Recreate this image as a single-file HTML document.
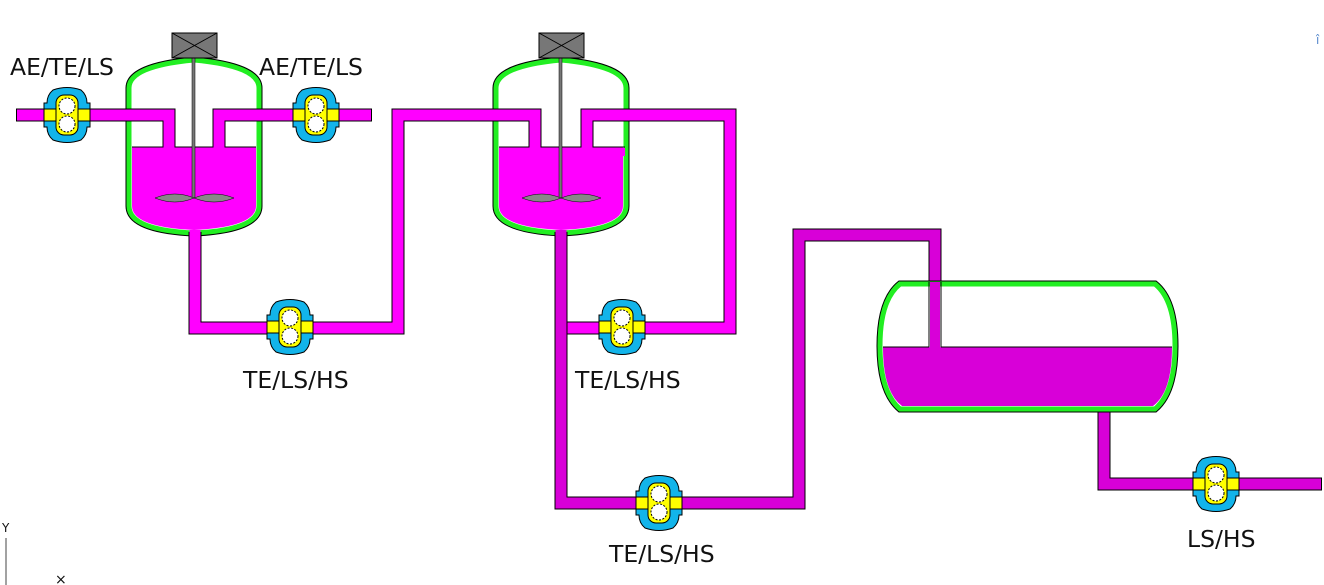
<!DOCTYPE html>
<html><head><meta charset="utf-8"><style>
html,body{margin:0;padding:0;background:#fff;width:1324px;height:585px;overflow:hidden}
text{font-family:"DejaVu Sans","Liberation Sans",sans-serif;font-size:23.5px;fill:#111}
</style></head><body>
<svg width="1324" height="585" xmlns="http://www.w3.org/2000/svg">
<defs>
<g id="pump">
<path d="M-14,-25 Q0,-30 14,-25 Q20,-20 20,-12 L23,-12 L23,12 L20,12 Q20,20 14,25 Q0,30 -14,25 Q-20,20 -20,12 L-23,12 L-23,-12 L-20,-12 Q-20,-20 -14,-25Z" fill="#12b4ea" stroke="#000" stroke-width="1"/>
<rect x="-23" y="-6" width="46" height="12" fill="#ffff00" stroke="#000" stroke-width="1"/>
<rect x="-11" y="-20" width="22" height="40" rx="8" fill="#ffff00" stroke="#000" stroke-width="1"/>
<circle cx="0" cy="-9" r="8" fill="#fff" stroke="#000" stroke-width="1" stroke-dasharray="2 1.5"/>
<circle cx="0" cy="9" r="8" fill="#fff" stroke="#000" stroke-width="1" stroke-dasharray="2 1.5"/>
<circle cx="0" cy="-9" r="5.5" fill="#fff"/>
<circle cx="0" cy="9" r="5.5" fill="#fff"/>
</g>
<g id="vessel">
<path d="M0,30 Q0,8 65,2 Q130,8 130,30 L130,148 Q130,172 65,175 Q0,172 0,148Z" fill="#fff" stroke="#000" stroke-width="7"/>
<path d="M0,30 Q0,8 65,2 Q130,8 130,30 L130,148 Q130,172 65,175 Q0,172 0,148Z" fill="#fff" stroke="#22ee22" stroke-width="5"/>
<path d="M3,89 L127,89 L127,148 Q127,169 65,172 Q3,169 3,148Z" fill="#ff00ff"/>
<line x1="3" y1="89" x2="127" y2="89" stroke="#000" stroke-width="1"/>
</g>
</defs>

<use href="#vessel" x="129" y="58"/>
<use href="#vessel" x="496" y="58"/>

<g fill="none" stroke-linejoin="miter" stroke-linecap="butt">
<g stroke="#000" stroke-width="13">
<polyline points="16,115 169,115 169,147"/>
<polyline points="372,115 219,115 219,147"/>
<polyline points="195,232 195,328 398,328 398,115 535,115 535,147"/>
<polyline points="587,147 587,115 730,115 730,328 555,328"/>
</g>
<g stroke="#ff00ff" stroke-width="11">
<polyline points="17,115 169,115 169,148"/>
<polyline points="371,115 219,115 219,148"/>
<polyline points="195,230 195,328 398,328 398,115 535,115 535,148"/>
<polyline points="587,148 587,115 730,115 730,328 556,328"/>
</g>
<g stroke="#000" stroke-width="13">
<polyline points="561,232 561,503 799,503 799,235 935,235 935,348"/>
<polyline points="1104,412 1104,484 1322,484"/>
</g>
<g stroke="#d800d8" stroke-width="11">
<polyline points="561,230 561,503 799,503 799,235 935,235 935,349"/>
<polyline points="1104,410 1104,484 1321,484"/>
</g>
</g>
<rect x="132" y="148" width="124" height="8" fill="#ff00ff"/>
<rect x="499" y="148" width="126" height="8" fill="#ff00ff"/>
<line x1="132" y1="147" x2="163" y2="147" stroke="#000"/><line x1="175" y1="147" x2="213" y2="147" stroke="#000"/><line x1="225" y1="147" x2="256" y2="147" stroke="#000"/>
<line x1="499" y1="147" x2="529" y2="147" stroke="#000"/><line x1="541" y1="147" x2="581" y2="147" stroke="#000"/><line x1="593" y1="147" x2="625" y2="147" stroke="#000"/>

<rect x="192" y="58" width="3" height="140" fill="#777" stroke="#000" stroke-width="0.5"/>
<path d="M155,198 Q175,190 194,198 Q175,206 155,198Z M194,198 Q214,190 234,198 Q214,206 194,198Z" fill="#888" stroke="#000" stroke-width="0.5"/>
<rect x="172" y="33" width="45" height="25" fill="#777" stroke="#000"/>
<path d="M172,33 L217,58 M217,33 L172,58" stroke="#000"/>
<rect x="559" y="58" width="3" height="140" fill="#777" stroke="#000" stroke-width="0.5"/>
<path d="M522,198 Q542,190 561,198 Q542,206 522,198Z M561,198 Q581,190 601,198 Q581,206 561,198Z" fill="#888" stroke="#000" stroke-width="0.5"/>
<rect x="539" y="33" width="45" height="25" fill="#777" stroke="#000"/>
<path d="M539,33 L584,58 M584,33 L539,58" stroke="#000"/>

<path d="M900,284 L1155,284 Q1175,300 1175,346 Q1175,392 1155,409 L900,409 Q880,392 880,346 Q880,300 900,284Z" fill="#fff" stroke="#000" stroke-width="7"/>
<path d="M900,284 L1155,284 Q1175,300 1175,346 Q1175,392 1155,409 L900,409 Q880,392 880,346 Q880,300 900,284Z" fill="#fff" stroke="#22ee22" stroke-width="5"/>
<path d="M883,347 L1172,347 Q1172,392 1153,406 L902,406 Q883,392 883,347Z" fill="#d800d8"/>
<line x1="883" y1="347" x2="929" y2="347" stroke="#000"/><line x1="941" y1="347" x2="1172" y2="347" stroke="#000"/>
<rect x="930" y="282" width="10" height="66" fill="#d800d8"/>
<line x1="929" y1="282" x2="929" y2="347" stroke="#000"/><line x1="941" y1="282" x2="941" y2="347" stroke="#000"/>

<use href="#pump" x="67" y="115"/>
<use href="#pump" x="316" y="115"/>
<use href="#pump" x="290" y="327"/>
<use href="#pump" x="622" y="327"/>
<use href="#pump" x="659" y="503"/>
<use href="#pump" x="1216" y="484"/>

<text x="10" y="75">AE/TE/LS</text>
<text x="259" y="75">AE/TE/LS</text>
<text x="243" y="388">TE/LS/HS</text>
<text x="575" y="388">TE/LS/HS</text>
<text x="609" y="562">TE/LS/HS</text>
<text x="1187" y="547">LS/HS</text>

<line x1="6" y1="538" x2="6" y2="585" stroke="#444"/>
<text x="2" y="532" style="font-size:12px">Y</text>
<text x="55" y="584" style="font-size:14px">×</text>
<text x="1316" y="44" style="font-size:12px;fill:#5588cc">î</text>
</svg>
</body></html>
